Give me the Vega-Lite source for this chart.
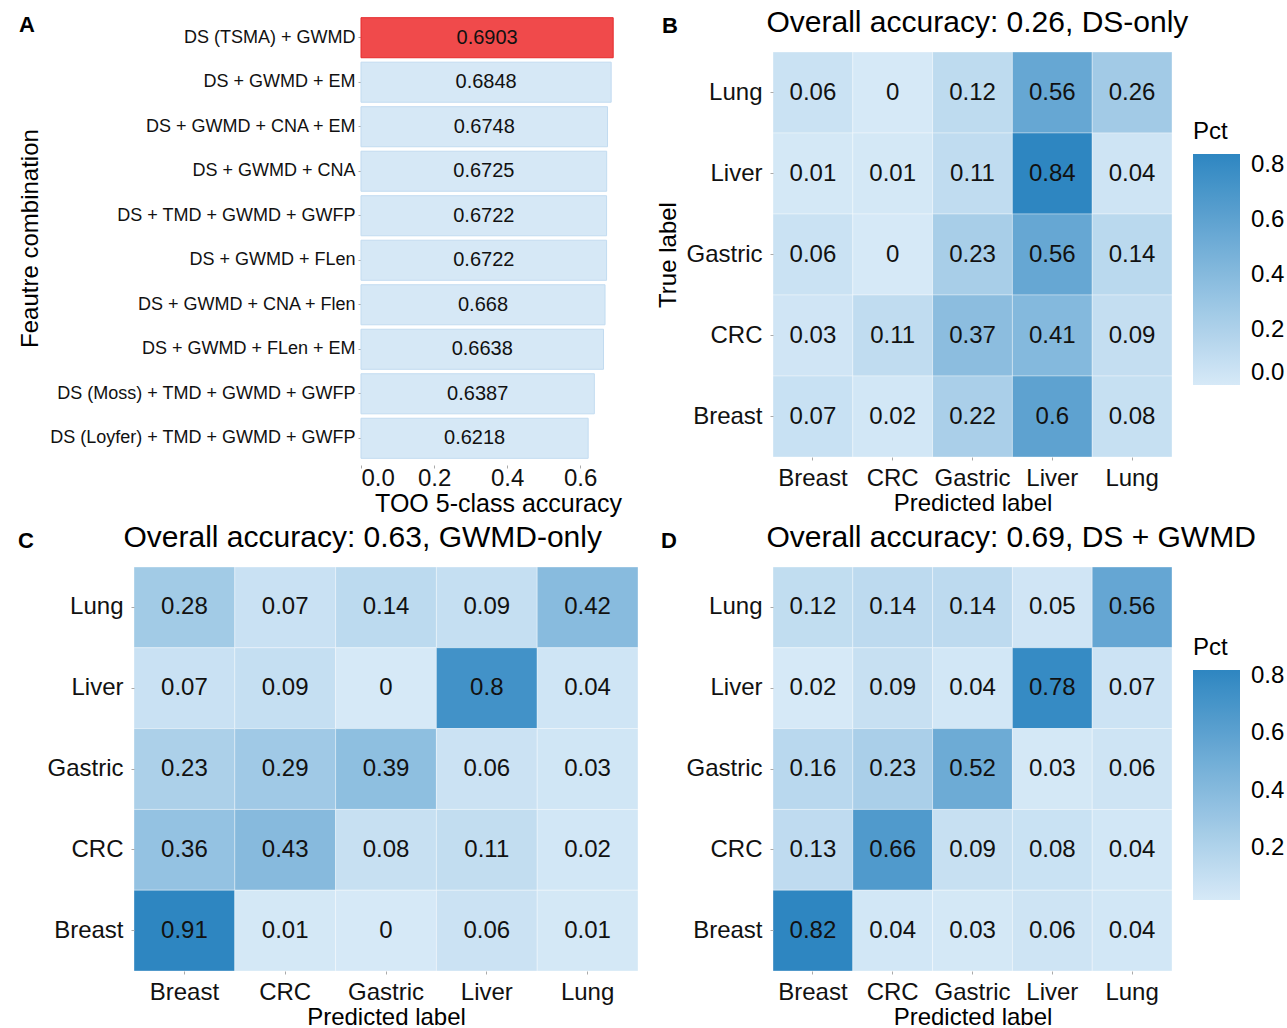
{
  "$schema": "https://vega.github.io/schema/vega-lite/v6.json",
  "padding": {"left": 17, "top": 7, "right": 0, "bottom": 0},
  "config": {
    "font": "Liberation Sans",
    "view": {"stroke": null},
    "axis": {"grid": false, "domain": false, "labelColor": "#111111", "titleColor": "#000000", "titleFontWeight": "normal", "tickColor": "#aaaaaa", "tickSize": 3},
    "legend": {"titleFontWeight": "normal", "titleColor": "#000000", "labelColor": "#000000"}
  },
  "datasets": {
    "combos": [
      {"combo": "DS (TSMA) + GWMD", "acc": 0.6903, "best": "yes"},
      {"combo": "DS + GWMD + EM", "acc": 0.6848, "best": "no"},
      {"combo": "DS + GWMD + CNA + EM", "acc": 0.6748, "best": "no"},
      {"combo": "DS + GWMD + CNA", "acc": 0.6725, "best": "no"},
      {"combo": "DS + TMD + GWMD + GWFP", "acc": 0.6722, "best": "no"},
      {"combo": "DS + GWMD + FLen", "acc": 0.6722, "best": "no"},
      {"combo": "DS + GWMD + CNA + Flen", "acc": 0.668, "best": "no"},
      {"combo": "DS + GWMD + FLen + EM", "acc": 0.6638, "best": "no"},
      {"combo": "DS (Moss) + TMD + GWMD + GWFP", "acc": 0.6387, "best": "no"},
      {"combo": "DS (Loyfer) + TMD + GWMD + GWFP", "acc": 0.6218, "best": "no"}
    ],
    "ds": [
      {"true": "Lung", "pred": "Breast", "pct": 0.06}, {"true": "Lung", "pred": "CRC", "pct": 0}, {"true": "Lung", "pred": "Gastric", "pct": 0.12}, {"true": "Lung", "pred": "Liver", "pct": 0.56}, {"true": "Lung", "pred": "Lung", "pct": 0.26},
      {"true": "Liver", "pred": "Breast", "pct": 0.01}, {"true": "Liver", "pred": "CRC", "pct": 0.01}, {"true": "Liver", "pred": "Gastric", "pct": 0.11}, {"true": "Liver", "pred": "Liver", "pct": 0.84}, {"true": "Liver", "pred": "Lung", "pct": 0.04},
      {"true": "Gastric", "pred": "Breast", "pct": 0.06}, {"true": "Gastric", "pred": "CRC", "pct": 0}, {"true": "Gastric", "pred": "Gastric", "pct": 0.23}, {"true": "Gastric", "pred": "Liver", "pct": 0.56}, {"true": "Gastric", "pred": "Lung", "pct": 0.14},
      {"true": "CRC", "pred": "Breast", "pct": 0.03}, {"true": "CRC", "pred": "CRC", "pct": 0.11}, {"true": "CRC", "pred": "Gastric", "pct": 0.37}, {"true": "CRC", "pred": "Liver", "pct": 0.41}, {"true": "CRC", "pred": "Lung", "pct": 0.09},
      {"true": "Breast", "pred": "Breast", "pct": 0.07}, {"true": "Breast", "pred": "CRC", "pct": 0.02}, {"true": "Breast", "pred": "Gastric", "pct": 0.22}, {"true": "Breast", "pred": "Liver", "pct": 0.6}, {"true": "Breast", "pred": "Lung", "pct": 0.08}
    ],
    "gwmd": [
      {"true": "Lung", "pred": "Breast", "pct": 0.28}, {"true": "Lung", "pred": "CRC", "pct": 0.07}, {"true": "Lung", "pred": "Gastric", "pct": 0.14}, {"true": "Lung", "pred": "Liver", "pct": 0.09}, {"true": "Lung", "pred": "Lung", "pct": 0.42},
      {"true": "Liver", "pred": "Breast", "pct": 0.07}, {"true": "Liver", "pred": "CRC", "pct": 0.09}, {"true": "Liver", "pred": "Gastric", "pct": 0}, {"true": "Liver", "pred": "Liver", "pct": 0.8}, {"true": "Liver", "pred": "Lung", "pct": 0.04},
      {"true": "Gastric", "pred": "Breast", "pct": 0.23}, {"true": "Gastric", "pred": "CRC", "pct": 0.29}, {"true": "Gastric", "pred": "Gastric", "pct": 0.39}, {"true": "Gastric", "pred": "Liver", "pct": 0.06}, {"true": "Gastric", "pred": "Lung", "pct": 0.03},
      {"true": "CRC", "pred": "Breast", "pct": 0.36}, {"true": "CRC", "pred": "CRC", "pct": 0.43}, {"true": "CRC", "pred": "Gastric", "pct": 0.08}, {"true": "CRC", "pred": "Liver", "pct": 0.11}, {"true": "CRC", "pred": "Lung", "pct": 0.02},
      {"true": "Breast", "pred": "Breast", "pct": 0.91}, {"true": "Breast", "pred": "CRC", "pct": 0.01}, {"true": "Breast", "pred": "Gastric", "pct": 0}, {"true": "Breast", "pred": "Liver", "pct": 0.06}, {"true": "Breast", "pred": "Lung", "pct": 0.01}
    ],
    "both": [
      {"true": "Lung", "pred": "Breast", "pct": 0.12}, {"true": "Lung", "pred": "CRC", "pct": 0.14}, {"true": "Lung", "pred": "Gastric", "pct": 0.14}, {"true": "Lung", "pred": "Liver", "pct": 0.05}, {"true": "Lung", "pred": "Lung", "pct": 0.56},
      {"true": "Liver", "pred": "Breast", "pct": 0.02}, {"true": "Liver", "pred": "CRC", "pct": 0.09}, {"true": "Liver", "pred": "Gastric", "pct": 0.04}, {"true": "Liver", "pred": "Liver", "pct": 0.78}, {"true": "Liver", "pred": "Lung", "pct": 0.07},
      {"true": "Gastric", "pred": "Breast", "pct": 0.16}, {"true": "Gastric", "pred": "CRC", "pct": 0.23}, {"true": "Gastric", "pred": "Gastric", "pct": 0.52}, {"true": "Gastric", "pred": "Liver", "pct": 0.03}, {"true": "Gastric", "pred": "Lung", "pct": 0.06},
      {"true": "CRC", "pred": "Breast", "pct": 0.13}, {"true": "CRC", "pred": "CRC", "pct": 0.66}, {"true": "CRC", "pred": "Gastric", "pct": 0.09}, {"true": "CRC", "pred": "Liver", "pct": 0.08}, {"true": "CRC", "pred": "Lung", "pct": 0.04},
      {"true": "Breast", "pred": "Breast", "pct": 0.82}, {"true": "Breast", "pred": "CRC", "pct": 0.04}, {"true": "Breast", "pred": "Gastric", "pct": 0.03}, {"true": "Breast", "pred": "Liver", "pct": 0.06}, {"true": "Breast", "pred": "Lung", "pct": 0.04}
    ]
  },
  "spacing": 6,
  "resolve": {"scale": {"color": "independent"}, "legend": {"color": "independent"}},
  "vconcat": [
    {
      "spacing": 21,
      "resolve": {"scale": {"color": "independent"}, "legend": {"color": "independent"}},
      "hconcat": [
        {
          "width": 501,
          "height": 413,
          "title": {"text": "A", "anchor": "start", "frame": "bounds", "fontSize": 22, "fontWeight": "bold", "offset": -20, "dx": 1, "color": "#000000"},
          "data": {"name": "combos"},
          "layer": [
            {
              "mark": {"type": "bar", "strokeWidth": 1},
              "encoding": {
                "y": {"field": "combo", "type": "nominal", "sort": null, "scale": {"range": [-41, 413], "paddingInner": 0.1, "paddingOuter": 0.15},
                  "axis": {"offset": -227, "title": "Feautre combination", "titleFontSize": 24, "titleX": -319, "labelFontSize": 18, "labelPadding": 3, "labelLimit": 500}},
                "x": {"field": "acc", "type": "quantitative", "scale": {"domain": [0, 0.75], "nice": false, "range": [227, 501]},
                  "axis": {"values": [0, 0.2, 0.4, 0.6], "format": ".1f", "title": "TOO 5-class accuracy", "titleFontSize": 25, "titlePadding": 1, "labelFontSize": 24, "labelPadding": -2}},
                "fill": {"field": "best", "type": "nominal", "scale": {"domain": ["yes", "no"], "range": ["#f04a4b", "#d6e8f6"]}, "legend": null},
                "stroke": {"field": "best", "type": "nominal", "scale": {"domain": ["yes", "no"], "range": ["#e52a2c", "#c2dbf0"]}, "legend": null}
              }
            },
            {
              "mark": {"type": "text", "fontSize": 20, "color": "#111111"},
              "encoding": {
                "y": {"field": "combo", "type": "nominal", "sort": null},
                "x": {"field": "acc", "type": "quantitative", "stack": "zero", "bandPosition": 0.5},
                "text": {"field": "acc", "type": "nominal"}
              }
            }
          ]
        },
        {
          "width": 399,
          "height": 405,
          "title": {"text": "B", "anchor": "start", "frame": "bounds", "fontSize": 22, "fontWeight": "bold", "offset": -31, "dx": 5, "color": "#000000"},
          "data": {"name": "ds"},
          "resolve": {"axis": {"x": "independent"}},
          "layer": [
            {
              "mark": {"type": "rect", "stroke": "#ffffff", "strokeOpacity": 0.35, "strokeWidth": 1},
              "encoding": {
                "x": {"field": "pred", "type": "nominal", "sort": ["Breast", "CRC", "Gastric", "Liver", "Lung"],
                  "axis": {"title": "Predicted label", "labelAngle": 0, "labelFontSize": 24, "labelPadding": 6, "titleFontSize": 24, "titlePadding": 1}},
                "y": {"field": "true", "type": "nominal", "sort": ["Lung", "Liver", "Gastric", "CRC", "Breast"],
                  "axis": {"title": "True label", "labelFontSize": 24, "labelPadding": 8, "titleFontSize": 24, "titlePadding": 5}},
                "color": {"field": "pct", "type": "quantitative", "scale": {"range": ["#d6e9f7", "#2e86c1"], "interpolate": "rgb"},
                  "legend": {"orient": "none", "direction": "vertical", "legendX": 420, "legendY": 68, "title": "Pct", "titleFontSize": 24, "titlePadding": 10, "labelFontSize": 24, "labelOffset": 11, "gradientLength": 231, "gradientThickness": 47, "gradientStrokeWidth": 0, "values": [0, 0.2, 0.4, 0.6, 0.8], "format": ".1f", "labelBaseline": "middle", "labelOverlap": false}}
              }
            },
            {
              "mark": {"type": "text", "fontSize": 24, "color": "#111111"},
              "encoding": {
                "x": {"field": "pred", "type": "nominal", "sort": ["Breast", "CRC", "Gastric", "Liver", "Lung"],
                  "axis": {"orient": "top", "title": "Overall accuracy: 0.26, DS-only", "labels": false, "ticks": false, "domain": false, "titleFontSize": 30, "titleAlign": "left", "titleAnchor": "start", "titleX": -7, "titlePadding": 15}},
                "y": {"field": "true", "type": "nominal", "sort": ["Lung", "Liver", "Gastric", "CRC", "Breast"]},
                "text": {"field": "pct", "type": "nominal"}
              }
            }
          ]
        }
      ]
    },
    {
      "spacing": 21,
      "resolve": {"scale": {"color": "independent"}, "legend": {"color": "independent"}},
      "hconcat": [
        {
          "width": 504,
          "height": 404,
          "title": {"text": "C", "anchor": "start", "frame": "bounds", "fontSize": 22, "fontWeight": "bold", "offset": -31, "dx": -29, "color": "#000000"},
          "data": {"name": "gwmd"},
          "resolve": {"axis": {"x": "independent"}},
          "layer": [
            {
              "mark": {"type": "rect", "stroke": "#ffffff", "strokeOpacity": 0.35, "strokeWidth": 1},
              "encoding": {
                "x": {"field": "pred", "type": "nominal", "sort": ["Breast", "CRC", "Gastric", "Liver", "Lung"],
                  "axis": {"title": "Predicted label", "labelAngle": 0, "labelFontSize": 24, "labelPadding": 6, "titleFontSize": 24, "titlePadding": 1}},
                "y": {"field": "true", "type": "nominal", "sort": ["Lung", "Liver", "Gastric", "CRC", "Breast"],
                  "axis": {"title": null, "labelFontSize": 24, "labelPadding": 8}},
                "color": {"field": "pct", "type": "quantitative", "scale": {"range": ["#d6e9f7", "#2e86c1"], "interpolate": "rgb"}, "legend": null}
              }
            },
            {
              "mark": {"type": "text", "fontSize": 24, "color": "#111111"},
              "encoding": {
                "x": {"field": "pred", "type": "nominal", "sort": ["Breast", "CRC", "Gastric", "Liver", "Lung"],
                  "axis": {"orient": "top", "title": "Overall accuracy: 0.63, GWMD-only", "labels": false, "ticks": false, "domain": false, "titleFontSize": 30, "titleAlign": "left", "titleAnchor": "start", "titleX": -11, "titlePadding": 15}},
                "y": {"field": "true", "type": "nominal", "sort": ["Lung", "Liver", "Gastric", "CRC", "Breast"]},
                "text": {"field": "pct", "type": "nominal"}
              }
            }
          ]
        },
        {
          "width": 399,
          "height": 404,
          "title": {"text": "D", "anchor": "start", "frame": "bounds", "fontSize": 22, "fontWeight": "bold", "offset": -31, "dx": -25, "color": "#000000"},
          "data": {"name": "both"},
          "resolve": {"axis": {"x": "independent"}},
          "layer": [
            {
              "mark": {"type": "rect", "stroke": "#ffffff", "strokeOpacity": 0.35, "strokeWidth": 1},
              "encoding": {
                "x": {"field": "pred", "type": "nominal", "sort": ["Breast", "CRC", "Gastric", "Liver", "Lung"],
                  "axis": {"title": "Predicted label", "labelAngle": 0, "labelFontSize": 24, "labelPadding": 6, "titleFontSize": 24, "titlePadding": 1}},
                "y": {"field": "true", "type": "nominal", "sort": ["Lung", "Liver", "Gastric", "CRC", "Breast"],
                  "axis": {"title": null, "labelFontSize": 24, "labelPadding": 8}},
                "color": {"field": "pct", "type": "quantitative", "scale": {"range": ["#d6e9f7", "#2e86c1"], "interpolate": "rgb"},
                  "legend": {"orient": "none", "direction": "vertical", "legendX": 420, "legendY": 69, "title": "Pct", "titleFontSize": 24, "titlePadding": 10, "labelFontSize": 24, "labelOffset": 11, "gradientLength": 230, "gradientThickness": 47, "gradientStrokeWidth": 0, "values": [0.2, 0.4, 0.6, 0.8], "format": ".1f", "labelBaseline": "middle", "labelOverlap": false}}
              }
            },
            {
              "mark": {"type": "text", "fontSize": 24, "color": "#111111"},
              "encoding": {
                "x": {"field": "pred", "type": "nominal", "sort": ["Breast", "CRC", "Gastric", "Liver", "Lung"],
                  "axis": {"orient": "top", "title": "Overall accuracy: 0.69, DS + GWMD", "labels": false, "ticks": false, "domain": false, "titleFontSize": 30, "titleAlign": "left", "titleAnchor": "start", "titleX": -7, "titlePadding": 15}},
                "y": {"field": "true", "type": "nominal", "sort": ["Lung", "Liver", "Gastric", "CRC", "Breast"]},
                "text": {"field": "pct", "type": "nominal"}
              }
            }
          ]
        }
      ]
    }
  ]
}
